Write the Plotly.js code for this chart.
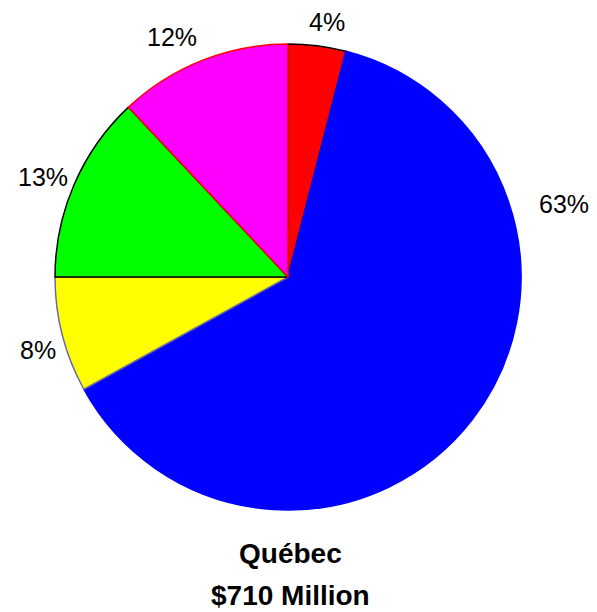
<!DOCTYPE html>
<html>
<head>
<meta charset="utf-8">
<script src="https://cdn.plot.ly/plotly-3.0.1.min.js"></script>
<style>html,body{margin:0;padding:0;background:#fff;}#chart{width:597px;height:612px;}</style>
</head>
<body>
<div id="chart"></div>
<script>
// Data
var categories = ["Segment 1", "Segment 2", "Segment 3", "Segment 4", "Segment 5"];
var shares = [4, 63, 8, 13, 12];
var sliceColors = ["#FF0000", "#0000FF", "#FFFF00", "#00FF00", "#FF00FF"];
var outlineColors = ["#000000", "#0000FF", "#6B6B9E", "#000000", "#FF0000"];
var titleLines = ["Québec", "$710 Million"];

// Label positions (paper coords), layout only
var labelPos = [[0.584, 1.047], [1.092, 0.657], [-0.036, 0.343], [-0.026, 0.714], [0.251, 1.015]];
var titleY = [-0.0923, -0.1845];

var total = shares.reduce(function(a, b){ return a + b; }, 0);
var annotations = shares.map(function(v, i){
  return {
    text: Math.round(v / total * 100) + "%",
    x: labelPos[i][0], y: labelPos[i][1], xref: "paper", yref: "paper",
    xanchor: "center", yanchor: "middle", showarrow: false,
    font: {family: "Liberation Sans, Arial, sans-serif", size: 25, color: "#000"}
  };
});
titleLines.forEach(function(t, i){
  annotations.push({
    text: "<b>" + t + "</b>",
    x: 0.505, y: titleY[i], xref: "paper", yref: "paper",
    xanchor: "center", yanchor: "middle", showarrow: false,
    font: {family: "Liberation Sans, Arial, sans-serif", size: 28, color: "#000"}
  });
});

var trace = {
  type: "pie",
  labels: categories,
  values: shares,
  sort: false,
  direction: "clockwise",
  rotation: 0,
  textinfo: "none",
  hoverinfo: "label+percent",
  marker: {colors: sliceColors, line: {color: outlineColors, width: 1.5}},
  domain: {x: [0, 1], y: [0, 1]}
};

var layout = {
  width: 597, height: 612,
  margin: {l: 55, r: 76, t: 44, b: 102},
  showlegend: false,
  paper_bgcolor: "#fff",
  annotations: annotations
};

Plotly.newPlot("chart", [trace], layout, {displayModeBar: false, staticPlot: true});
</script>
</body>
</html>
